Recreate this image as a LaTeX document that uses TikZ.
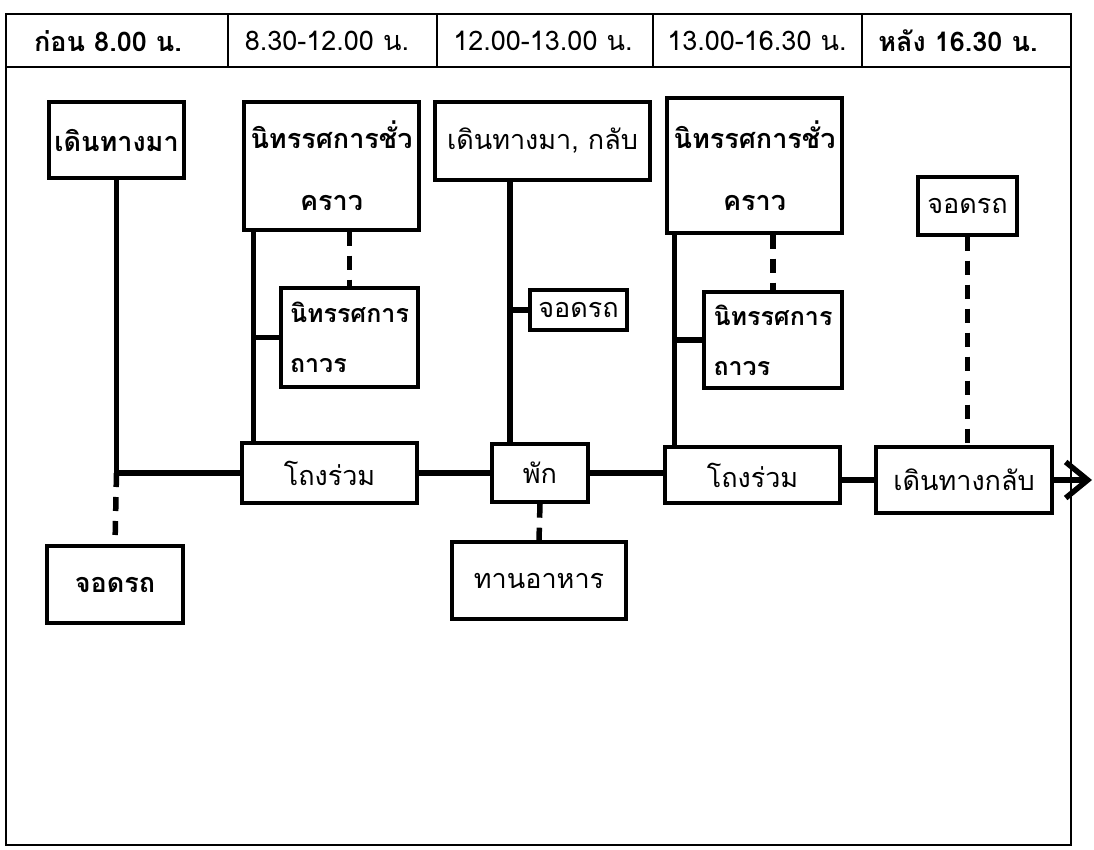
\documentclass[tikz,border=0pt]{standalone}
\usepackage{fontspec}
\newfontfamily\thaifont[Script=Thai]{Loma}
\usetikzlibrary{arrows.meta}
\begin{document}
\begin{tikzpicture}[x=1pt,y=-1pt,
  frameline/.style={line width=2.6pt},
  hdr/.style={font=\thaifont\fontsize{27}{30}\selectfont, inner sep=0pt},
  hdrb/.style={font=\thaifont\bfseries\fontsize{27}{30}\selectfont, inner sep=0pt},
  box/.style={draw, line width=3.4pt, inner sep=0pt, align=center,
              font=\thaifont\fontsize{27}{32}\selectfont},
  boxb/.style={box, font=\thaifont\bfseries\fontsize{27}{32}\selectfont},
  twoline/.style={box, font=\thaifont\bfseries\fontsize{27}{62}\selectfont},
  twolineleft/.style={box, align=left, font=\thaifont\bfseries\fontsize{25}{50}\selectfont},
  conn/.style={line width=5.5pt},
  dconn/.style={line width=5.5pt, dash pattern=on 14pt off 10pt}
]
\useasboundingbox (0,0) rectangle (1094,849);
% frame and header
\draw[frameline] (6,14) rectangle (1071,845);
\draw[frameline] (6,67) -- (1071,67);
\foreach \xx in {228,437,653,862} \draw[frameline] (\xx,14) -- (\xx,67);
\node[hdrb] (h1) at (108,41) {ก่อน 8.00 น.};
\node[hdr] (h2) at (327,41) {8.30-12.00 น.};
\node[hdr] (h3) at (543,41) {12.00-13.00 น.};
\node[hdr] (h4) at (757,41) {13.00-16.30 น.};
\node[hdrb] (h5) at (958,41) {หลัง 16.30 น.};
% boxes
\node[boxb, minimum width=135pt, minimum height=76pt] (walkin) at (116.5,140) {เดินทางมา};
\node[twoline, minimum width=175pt, minimum height=128pt] (temp1) at (331.5,166) {นิทรรศการชั่ว\\คราว};
\node[twolineleft, minimum width=137pt, minimum height=99pt] (perm1) at (349.5,337.5) {นิทรรศการ\\ถาวร};
\node[box, minimum width=215pt, minimum height=78pt] (walk2) at (542.5,141) {เดินทางมา, กลับ};
\node[box, minimum width=97pt, minimum height=40pt] (park2) at (578.5,310) {จอดรถ};
\node[twoline, minimum width=175pt, minimum height=135pt] (temp2) at (754.5,165.5) {นิทรรศการชั่ว\\คราว};
\node[twolineleft, minimum width=138pt, minimum height=96pt] (perm2) at (773,340) {นิทรรศการ\\ถาวร};
\node[box, minimum width=99pt, minimum height=58pt] (park3) at (967.5,206) {จอดรถ};
\node[box, minimum width=175pt, minimum height=60pt] (hall1) at (329.5,473) {โถงร่วม};
\node[box, minimum width=96pt, minimum height=58pt] (rest) at (540,473) {พัก};
\node[box, minimum width=175pt, minimum height=56pt] (hall2) at (752.5,475) {โถงร่วม};
\node[box, minimum width=176pt, minimum height=66pt] (walkout) at (964,480) {เดินทางกลับ};
\node[boxb, minimum width=136pt, minimum height=77pt] (park1) at (115,584.5) {จอดรถ};
\node[box, minimum width=174pt, minimum height=77pt] (eat) at (539,580.5) {ทานอาหาร};
\coordinate (j1) at (walkin.south |- hall1.west);
\coordinate (endpt) at (1092,480);
% connectors
\draw[conn] (walkin.south) -- (j1) -- (hall1.west);
\draw[dconn] (j1) -- (park1.north);
\draw[conn] ([xshift=11pt]temp1.south west) -- ([xshift=13pt]hall1.north west);
\draw[conn] (perm1.west) -- ++(-26,0);
\draw[dconn] (perm1.north |- temp1.south) -- (perm1.north);
\draw[conn] (hall1.east) -- (rest.west);
\draw[conn] ([xshift=-30pt]rest.north |- walk2.south) -- ([xshift=-30pt]rest.north);
\draw[conn] (park2.west) -- ++(-20,0);
\draw[dconn] (rest.south) -- (eat.north);
\draw[conn] (rest.east) -- (rest.east -| hall2.west);
\draw[conn] ([xshift=9pt]temp2.south west) -- ([xshift=11pt]hall2.north west);
\draw[conn] (perm2.west) -- ++(-28,0);
\draw[dconn] (perm2.north |- temp2.south) -- (perm2.north);
\draw[conn] (hall2.east |- walkout.west) -- (walkout.west);
\draw[dconn] (park3.south) -- (park3.south |- walkout.north);
\draw[conn, -{Straight Barb[length=22pt,width=36pt,line width=5.5pt]}] (walkout.east) -- (endpt);
\end{tikzpicture}
\end{document}
